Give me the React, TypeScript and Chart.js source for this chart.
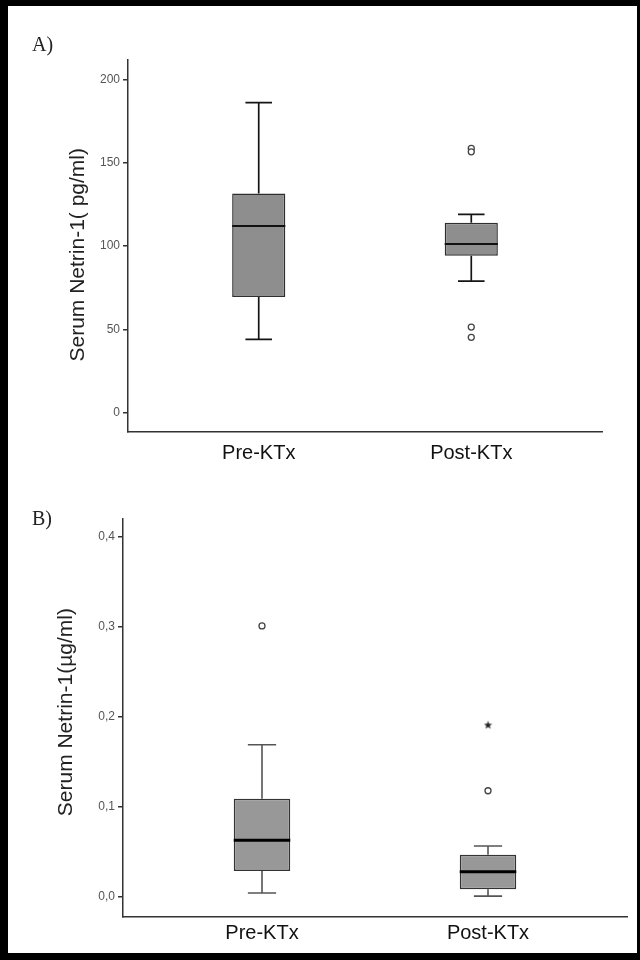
import React, { useEffect, useRef } from 'react';
import { Chart, registerables } from 'chart.js';

Chart.register(...registerables);

// ---------- data ----------
const CATEGORIES = ['Pre-KTx', 'Post-KTx'];

// Panel A: serum Netrin-1 (pg/ml)
const A_MIN = [44, 79];
const A_Q1 = [69.5, 94.2];
const A_MEDIAN = [112, 101.2];
const A_Q3 = [131.5, 114];
const A_MAX = [186, 119];
const A_OUTLIER_GROUP = [1, 1, 1, 1];
const A_OUTLIER_VALUE = [158.6, 156.5, 51.4, 45.3];
const A_EXTREME_GROUP: number[] = [];
const A_EXTREME_VALUE: number[] = [];
const A_Y_TICKS = [0, 50, 100, 150, 200];
const A_Y_TICK_LABELS = ['0', '50', '100', '150', '200'];

// Panel B: serum Netrin-1 (µg/ml)
const B_MIN = [0.0044, 0.001];
const B_Q1 = [0.029, 0.0085];
const B_MEDIAN = [0.063, 0.028];
const B_Q3 = [0.109, 0.047];
const B_MAX = [0.169, 0.0567];
const B_OUTLIER_GROUP = [0, 1];
const B_OUTLIER_VALUE = [0.301, 0.118];
const B_EXTREME_GROUP = [1];
const B_EXTREME_VALUE = [0.191];
const B_Y_TICKS = [0, 0.1, 0.2, 0.3, 0.4];
const B_Y_TICK_LABELS = ['0,0', '0,1', '0,2', '0,3', '0,4'];

// ---------- helpers ----------
const SANS = '"Liberation Sans", Arial, Helvetica, sans-serif';

function makeStar(): HTMLCanvasElement {
  const c = document.createElement('canvas');
  c.width = 9;
  c.height = 9;
  const ctx = c.getContext('2d')!;
  ctx.fillStyle = '#222';
  ctx.beginPath();
  for (let i = 0; i < 10; i++) {
    const r = i % 2 === 0 ? 4.3 : 1.8;
    const a = -Math.PI / 2 + (i * Math.PI) / 5;
    const px = 4.5 + r * Math.cos(a);
    const py = 4.8 + r * Math.sin(a);
    if (i === 0) ctx.moveTo(px, py);
    else ctx.lineTo(px, py);
  }
  ctx.closePath();
  ctx.fill();
  return c;
}

type Panel = {
  min: number[];
  q1: number[];
  median: number[];
  q3: number[];
  max: number[];
  outGroup: number[];
  outValue: number[];
  extGroup: number[];
  extValue: number[];
  yTicks: number[];
  yTickLabels: string[];
  yMin: number;
  yMax: number;
  title: string;
  fill: string;
  boxBorder: string;
  whiskerColor: string;
  whiskerWidth: number;
  medianColor: string;
  medianWidth: number;
  padTop: number;
  padRight: number;
  yAxisWidth: number;
  xAxisHeight: number;
  titlePad: number;
  xLabelPad: number;
};

function boxPlugin(p: Panel) {
  const stat = (chart: any) => {
    const meta = chart.getDatasetMeta(0);
    const y = chart.scales.y;
    return { meta, y };
  };
  return {
    id: 'boxWhisker',
    beforeDatasetsDraw(chart: any) {
      const { meta, y } = stat(chart);
      const ctx = chart.ctx;
      ctx.save();
      ctx.strokeStyle = p.whiskerColor;
      ctx.lineWidth = p.whiskerWidth;
      meta.data.forEach((bar: any, i: number) => {
        const cx = bar.x;
        const half = bar.width / 4;
        const yMax = y.getPixelForValue(p.max[i]);
        const yQ3 = y.getPixelForValue(p.q3[i]);
        const yQ1 = y.getPixelForValue(p.q1[i]);
        const yMin = y.getPixelForValue(p.min[i]);
        ctx.beginPath();
        ctx.moveTo(cx, yMax);
        ctx.lineTo(cx, yQ3);
        ctx.moveTo(cx, yQ1);
        ctx.lineTo(cx, yMin);
        ctx.moveTo(cx - half, yMax);
        ctx.lineTo(cx + half, yMax);
        ctx.moveTo(cx - half, yMin);
        ctx.lineTo(cx + half, yMin);
        ctx.stroke();
      });
      ctx.restore();
    },
    afterDatasetsDraw(chart: any) {
      const { meta, y } = stat(chart);
      const ctx = chart.ctx;
      ctx.save();
      ctx.strokeStyle = p.medianColor;
      ctx.lineWidth = p.medianWidth;
      meta.data.forEach((bar: any, i: number) => {
        const ym = y.getPixelForValue(p.median[i]);
        ctx.beginPath();
        ctx.moveTo(bar.x - bar.width / 2, ym);
        ctx.lineTo(bar.x + bar.width / 2, ym);
        ctx.stroke();
      });
      ctx.restore();
    },
  };
}

function buildConfig(p: Panel): any {
  const star = makeStar();
  return {
    type: 'bar',
    data: {
      datasets: [
        {
          type: 'bar',
          data: CATEGORIES.map((_, i) => ({ x: i, y: [p.q1[i], p.q3[i]] })),
          backgroundColor: p.fill,
          borderColor: p.boxBorder,
          borderWidth: 1.5,
          borderSkipped: false,
          barPercentage: 0.25,
          categoryPercentage: 1,
        },
        {
          type: 'scatter',
          data: p.outGroup.map((g, i) => ({ x: g, y: p.outValue[i] })),
          pointStyle: 'circle',
          pointRadius: 3,
          pointBackgroundColor: '#ffffff',
          pointBorderColor: '#444',
          pointBorderWidth: 1.3,
        },
        {
          type: 'scatter',
          data: p.extGroup.map((g, i) => ({ x: g, y: p.extValue[i] })),
          pointStyle: star,
          pointRadius: 4,
        },
      ],
    },
    options: {
      animation: false,
      responsive: false,
      devicePixelRatio: 1,
      events: [],
      layout: { padding: { top: p.padTop, right: p.padRight, left: 0, bottom: 0 } },
      plugins: { legend: { display: false }, tooltip: { enabled: false } },
      scales: {
        x: {
          type: 'linear',
          offset: false,
          min: -0.615,
          max: 1.615,
          grid: { display: false },
          border: { display: true, color: '#333', width: 1.5 },
          afterBuildTicks: (s: any) => {
            s.ticks = CATEGORIES.map((_, i) => ({ value: i }));
          },
          afterFit: (s: any) => {
            s.height = p.xAxisHeight;
          },
          ticks: {
            autoSkip: false,
            maxRotation: 0,
            padding: p.xLabelPad,
            color: '#111',
            font: { family: SANS, size: 20 },
            callback: (v: number) => CATEGORIES[v] ?? '',
          },
        },
        y: {
          type: 'linear',
          min: p.yMin,
          max: p.yMax,
          afterBuildTicks: (s: any) => {
            s.ticks = p.yTicks.map((v) => ({ value: v }));
          },
          afterFit: (s: any) => {
            s.width = p.yAxisWidth;
          },
          grid: {
            display: true,
            drawOnChartArea: false,
            drawTicks: true,
            tickLength: 5,
            color: '#333',
            lineWidth: 1.5,
          },
          border: { display: true, color: '#333', width: 1.5 },
          ticks: {
            padding: 3,
            color: '#555',
            font: { family: SANS, size: 12 },
            callback: (_v: number, idx: number) => p.yTickLabels[idx],
          },
          title: {
            display: true,
            text: p.title,
            color: '#222',
            font: { family: SANS, size: 21, lineHeight: 1.2 },
            padding: { top: p.titlePad, bottom: 0 },
          },
        },
      },
    },
    plugins: [boxPlugin(p)],
  };
}

const PANEL_A: Panel = {
  min: A_MIN,
  q1: A_Q1,
  median: A_MEDIAN,
  q3: A_Q3,
  max: A_MAX,
  outGroup: A_OUTLIER_GROUP,
  outValue: A_OUTLIER_VALUE,
  extGroup: A_EXTREME_GROUP,
  extValue: A_EXTREME_VALUE,
  yTicks: A_Y_TICKS,
  yTickLabels: A_Y_TICK_LABELS,
  yMin: -11.5,
  yMax: 211.6,
  title: 'Serum Netrin-1( pg/ml)   ',
  fill: '#8e8e8e',
  boxBorder: '#2e2e2e',
  whiskerColor: '#151515',
  whiskerWidth: 1.7,
  medianColor: '#111',
  medianWidth: 2,
  padTop: 60,
  padRight: 38,
  yAxisWidth: 128,
  xAxisHeight: 48,
  titlePad: 66,
  xLabelPad: 1,
};

const PANEL_B: Panel = {
  min: B_MIN,
  q1: B_Q1,
  median: B_MEDIAN,
  q3: B_Q3,
  max: B_MAX,
  outGroup: B_OUTLIER_GROUP,
  outValue: B_OUTLIER_VALUE,
  extGroup: B_EXTREME_GROUP,
  extValue: B_EXTREME_VALUE,
  yTicks: B_Y_TICKS,
  yTickLabels: B_Y_TICK_LABELS,
  yMin: -0.0222,
  yMax: 0.4197,
  title: '  Serum Netrin-1(µg/ml)',
  fill: '#989898',
  boxBorder: '#333',
  whiskerColor: '#555',
  whiskerWidth: 1.6,
  medianColor: '#000',
  medianWidth: 3,
  padTop: 39,
  padRight: 13,
  yAxisWidth: 123,
  xAxisHeight: 43,
  titlePad: 54,
  xLabelPad: -4,
};

function BoxChart({ panel, top }: { panel: Panel; top: number }) {
  const ref = useRef<HTMLCanvasElement>(null);
  useEffect(() => {
    if (!ref.current) return;
    const chart = new Chart(ref.current, buildConfig(panel));
    return () => chart.destroy();
  }, [panel]);
  return (
    <canvas
      ref={ref}
      width={640}
      height={480}
      style={{ position: 'absolute', left: 0, top, width: 640, height: 480, display: 'block' }}
    />
  );
}

const labelStyle: React.CSSProperties = {
  position: 'absolute',
  left: 32,
  fontFamily: '"Liberation Serif", "Times New Roman", serif',
  fontSize: 20,
  lineHeight: '20px',
  color: '#222',
  margin: 0,
};

export default function App() {
  return (
    <div style={{ position: 'relative', width: 640, height: 960, background: '#fff', overflow: 'hidden' }}>
      <style>{'body{margin:0;}'}</style>
      <BoxChart panel={PANEL_A} top={0} />
      <BoxChart panel={PANEL_B} top={480} />
      <div style={{ ...labelStyle, top: 34 }}>A)</div>
      <div style={{ ...labelStyle, top: 508 }}>B)</div>
      <div
        style={{
          position: 'absolute',
          left: 0,
          top: 0,
          width: 640,
          height: 960,
          boxSizing: 'border-box',
          borderStyle: 'solid',
          borderColor: '#000',
          borderWidth: '6px 3px 7px 8px',
          pointerEvents: 'none',
        }}
      />
    </div>
  );
}
